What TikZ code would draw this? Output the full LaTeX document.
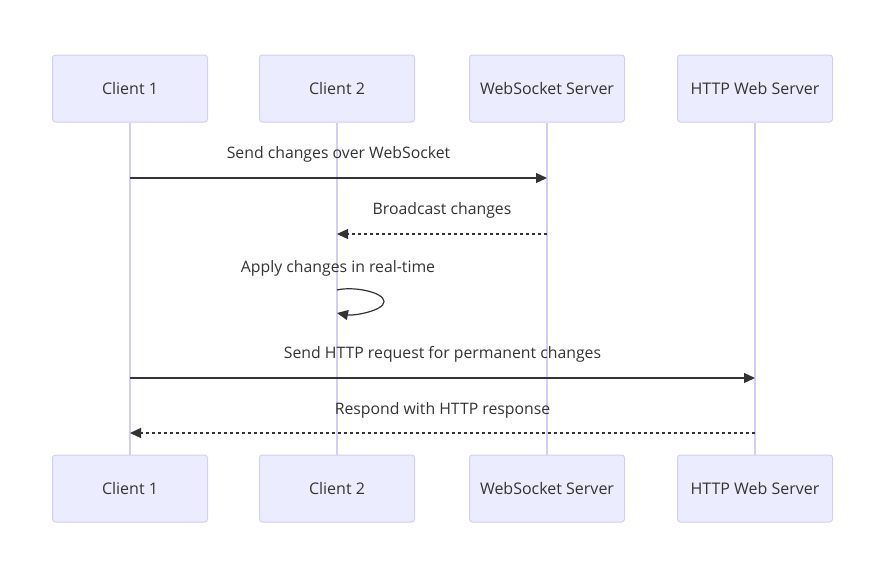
\documentclass[tikz,border=0pt]{standalone}
\usepackage{fontspec}
\setmainfont{Open Sans}
\usetikzlibrary{arrows.meta}
\definecolor{actorfill}{HTML}{ECECFF}
\definecolor{actorline}{HTML}{D6CCF5}
\definecolor{ink}{HTML}{333333}
\tikzset{
    actor/.style={draw=actorline, fill=actorfill, line width=1pt, rounded corners=3pt,
        minimum width=155pt, minimum height=67pt, text=ink, font=\fontsize{16}{19}\selectfont},
    life/.style={draw=actorline, line width=1.5pt},
    msg/.style={draw=ink, line width=1.2pt, -{Triangle[length=11pt,width=10pt]}},
    reply/.style={msg, dash pattern=on 3pt off 3pt},
    msglabel/.style={text=ink, font=\fontsize{15.8}{19}\selectfont}
}
\begin{document}
\begin{tikzpicture}[x=1pt, y=-1pt]
    \useasboundingbox (0,0) rectangle (885,579);

    % participants, top row
    \node[actor] (c1top) at (130,88.5) {Client 1};
    \node[actor] (c2top) at (337,88.5) {Client 2};
    \node[actor] (wstop) at (547,88.5) {WebSocket Server};
    \node[actor] (httptop) at (755,88.5) {HTTP Web Server};

    % participants, bottom row
    \node[actor] (c1bot) at (130,488.5) {Client 1};
    \node[actor] (c2bot) at (337,488.5) {Client 2};
    \node[actor] (wsbot) at (547,488.5) {WebSocket Server};
    \node[actor] (httpbot) at (755,488.5) {HTTP Web Server};

    % lifelines
    \draw[life] (c1top.south) -- (c1bot.north);
    \draw[life] (c2top.south) -- (c2bot.north);
    \draw[life] (wstop.south) -- (wsbot.north);
    \draw[life] (httptop.south) -- (httpbot.north);

    % Send changes over WebSocket
    \coordinate (m1from) at (c1top.south |- 0,178);
    \coordinate (m1to) at (wstop.south |- 0,178);
    \draw[msg] (m1from) -- (m1to);
    \node[msglabel] (m1label) at (338.5,154.5) {Send changes over WebSocket};

    % Broadcast changes
    \coordinate (m2from) at (wstop.south |- 0,234);
    \coordinate (m2to) at (c2top.south |- 0,234);
    \draw[reply] (m2from) -- (m2to);
    \node[msglabel] (m2label) at (442,210.5) {Broadcast changes};

    % Apply changes in real-time (self message)
    \coordinate (m3from) at (c2top.south |- 0,290);
    \coordinate (m3to) at (c2top.south |- 0,313);
    \draw[msg] (m3from) .. controls (353,286) and (384,292) .. (384,301.5)
        .. controls (384,311) and (353,316) .. (m3to);
    \node[msglabel] (m3label) at (338,268.5) {Apply changes in real-time};

    % Send HTTP request for permanent changes
    \coordinate (m4from) at (c1top.south |- 0,378);
    \coordinate (m4to) at (httptop.south |- 0,378);
    \draw[msg] (m4from) -- (m4to);
    \node[msglabel] (m4label) at (442.5,354.5) {Send HTTP request for permanent changes};

    % Respond with HTTP response
    \coordinate (m5from) at (httptop.south |- 0,433);
    \coordinate (m5to) at (c1top.south |- 0,433);
    \draw[reply] (m5from) -- (m5to);
    \node[msglabel] (m5label) at (442.5,410.5) {Respond with HTTP response};
\end{tikzpicture}
\end{document}
